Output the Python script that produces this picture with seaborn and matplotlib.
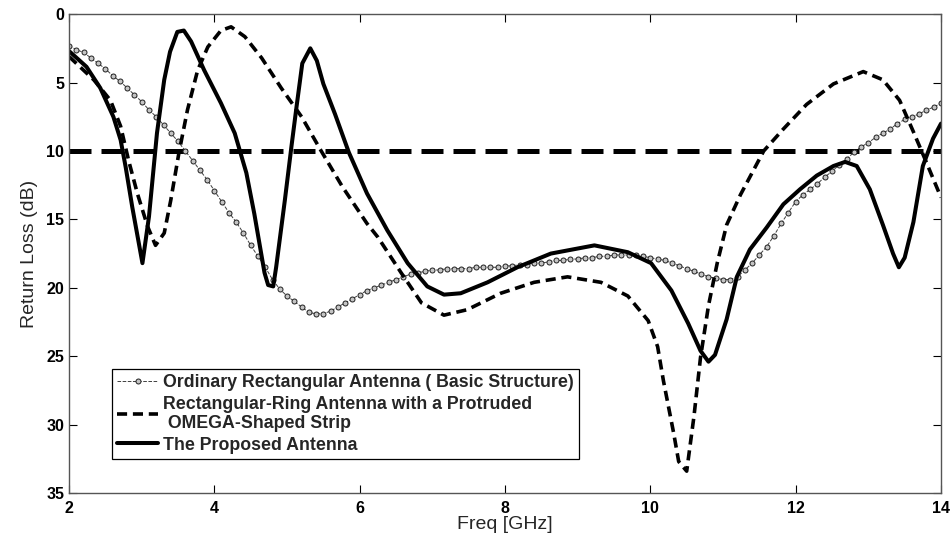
import matplotlib
matplotlib.use("Agg")
import matplotlib.pyplot as plt
import seaborn as sns
import numpy as np

# Ordinary Rectangular Antenna (Basic Structure), sampled every 0.1 GHz
freq_basic = np.round(np.arange(2.0, 14.01, 0.1), 1)
rl_basic = [2.3, 2.6, 2.8, 3.2, 3.6, 4.0, 4.5, 4.9, 5.4, 5.9,
            6.4, 7.0, 7.5, 8.1, 8.7, 9.3, 10.0, 10.7, 11.4, 12.1,
            12.9, 13.7, 14.5, 15.2, 16.0, 16.9, 17.7, 18.5, 19.4, 20.1,
            20.6, 21.0, 21.4, 21.8, 21.9, 21.9, 21.7, 21.4, 21.1, 20.8,
            20.5, 20.2, 20.0, 19.8, 19.6, 19.4, 19.2, 19.0, 18.9, 18.8,
            18.7, 18.7, 18.6, 18.6, 18.6, 18.6, 18.5, 18.5, 18.5, 18.5,
            18.4, 18.4, 18.3, 18.3, 18.2, 18.2, 18.1, 18.0, 18.0, 17.9,
            17.9, 17.8, 17.8, 17.7, 17.7, 17.6, 17.6, 17.6, 17.6, 17.7,
            17.8, 17.9, 18.0, 18.2, 18.4, 18.6, 18.8, 19.0, 19.2, 19.3,
            19.4, 19.4, 19.2, 18.7, 18.2, 17.6, 17.0, 16.2, 15.3, 14.5,
            13.7, 13.2, 12.8, 12.4, 11.9, 11.5, 11.0, 10.6, 10.1, 9.7,
            9.4, 9.0, 8.7, 8.4, 8.0, 7.7, 7.5, 7.3, 7.0, 6.8, 6.5]

# Rectangular-Ring Antenna with a Protruded OMEGA-Shaped Strip
freq_ring = [2.0, 2.34, 2.57, 2.71, 2.82, 2.94, 3.08, 3.19, 3.31, 3.4,
             3.51, 3.63, 3.77, 3.91, 4.09, 4.23, 4.42, 4.65, 4.92, 5.2,
             5.47, 5.76, 6.1, 6.25, 6.57, 6.85, 7.16, 7.48, 7.94, 8.4,
             8.86, 9.32, 9.69, 9.97, 10.1, 10.18, 10.32, 10.39, 10.5, 10.6,
             10.69, 10.8, 10.92, 11.05, 11.24, 11.56, 11.83, 12.15, 12.52, 12.93,
             13.2, 13.43, 13.62, 13.78, 14.0]
rl_ring = [3.1, 4.8, 6.3, 8.2, 10.7, 13.1, 15.5, 16.9, 16.0, 13.6,
           10.2, 7.0, 4.1, 2.4, 1.2, 0.93, 1.65, 3.2, 5.4, 7.5,
           10.0, 12.6, 15.3, 16.3, 18.9, 21.1, 22.0, 21.6, 20.4, 19.6,
           19.2, 19.6, 20.6, 22.4, 24.3, 26.8, 30.6, 32.7, 33.4, 29.4,
           25.1, 21.3, 18.2, 15.4, 13.2, 10.0, 8.4, 6.6, 5.1, 4.2,
           4.8, 6.3, 8.6, 10.6, 13.4]

# The Proposed Antenna
freq_prop = [2.0, 2.24, 2.43, 2.61, 2.71, 2.78, 2.87, 3.01, 3.1, 3.21,
             3.31, 3.39, 3.49, 3.58, 3.68, 3.86, 4.09, 4.28, 4.44, 4.55,
             4.69, 4.74, 4.81, 4.85, 4.97, 5.06, 5.13, 5.21, 5.32, 5.41,
             5.5, 5.66, 5.85, 6.1, 6.38, 6.66, 6.93, 7.16, 7.39, 7.76,
             8.17, 8.63, 9.23, 9.69, 10.01, 10.29, 10.52, 10.69, 10.8, 10.89,
             11.05, 11.19, 11.37, 11.6, 11.83, 12.06, 12.29, 12.52, 12.68, 12.84,
             13.02, 13.2, 13.34, 13.42, 13.5, 13.62, 13.75, 13.89, 14.0]
rl_prop = [2.7, 3.85, 5.4, 7.5, 9.2, 11.2, 14.1, 18.2, 14.8, 8.7,
           4.8, 2.75, 1.3, 1.2, 2.0, 4.1, 6.5, 8.7, 11.6, 14.6,
           18.9, 19.8, 19.9, 18.5, 13.6, 9.7, 6.8, 3.6, 2.5, 3.4,
           5.1, 7.3, 10.1, 13.1, 15.8, 18.2, 19.9, 20.5, 20.4, 19.6,
           18.5, 17.5, 16.9, 17.4, 18.2, 20.2, 22.6, 24.6, 25.4, 24.9,
           22.3, 19.2, 17.2, 15.6, 13.9, 12.8, 11.8, 11.1, 10.8, 11.1,
           12.8, 15.4, 17.5, 18.5, 17.8, 15.2, 11.1, 9.1, 8.0]

# -10 dB reference
freq_ref = [2, 14]
rl_ref = [10, 10]

labels = ["Ordinary Rectangular Antenna ( Basic Structure)",
          "Rectangular-Ring Antenna with a Protruded\n OMEGA-Shaped Strip",
          "The Proposed Antenna"]

sns.set_style("ticks")
plt.rcParams['font.family'] = ['Liberation Sans', 'DejaVu Sans']

fig, ax = plt.subplots(figsize=(9.51, 5.43), dpi=100)
fig.subplots_adjust(left=0.0726, right=0.9895, top=0.974, bottom=0.0920)

sns.lineplot(x=freq_ref, y=rl_ref, ax=ax, color='black', linewidth=3.6)
ax.lines[-1].set_dashes((4.4, 2.0))

sns.lineplot(x=freq_basic, y=rl_basic, ax=ax, color='#404040', linewidth=0.7,
             linestyle='--', marker='o', markersize=3.6, markerfacecolor='#c4c4c4',
             markeredgecolor='#202020', markeredgewidth=0.7)
l_basic = ax.lines[-1]

sns.lineplot(x=freq_ring, y=rl_ring, ax=ax, color='black', linewidth=2.6)
l_ring = ax.lines[-1]
l_ring.set_dashes((2.8, 1.6))

sns.lineplot(x=freq_prop, y=rl_prop, ax=ax, color='black', linewidth=2.9)
l_prop = ax.lines[-1]

ax.set_xlim(2, 14)
ax.set_ylim(35, 0)
ax.set_xticks(range(2, 15, 2))
ax.set_yticks(range(0, 36, 5))
ax.tick_params(direction='in', top=True, right=True, length=6, width=0.8,
               labelsize=11.5, colors='black')
ax.tick_params(axis='x', pad=6)
ax.tick_params(axis='y', pad=3.5)
for t in ax.get_xticklabels() + ax.get_yticklabels():
    t.set_fontweight('bold')
for s in ax.spines.values():
    s.set_linewidth(1.0)
    s.set_color('#555555')

ax.set_xlabel("Freq [GHz]", fontsize=14, labelpad=0)
ax.set_ylabel("Return Loss (dB)", fontsize=14, labelpad=6)

leg = ax.legend([l_basic, l_ring, l_prop], labels, loc='lower left',
                bbox_to_anchor=(0.049, 0.071), fancybox=False, framealpha=1,
                edgecolor='black', handlelength=2.3, handletextpad=0.3,
                borderpad=0.3, labelspacing=0.25, borderaxespad=0,
                prop={'weight': 'bold', 'size': 12.8})
leg.get_frame().set_linewidth(0.9)

fig.savefig("out.png", dpi=100)
